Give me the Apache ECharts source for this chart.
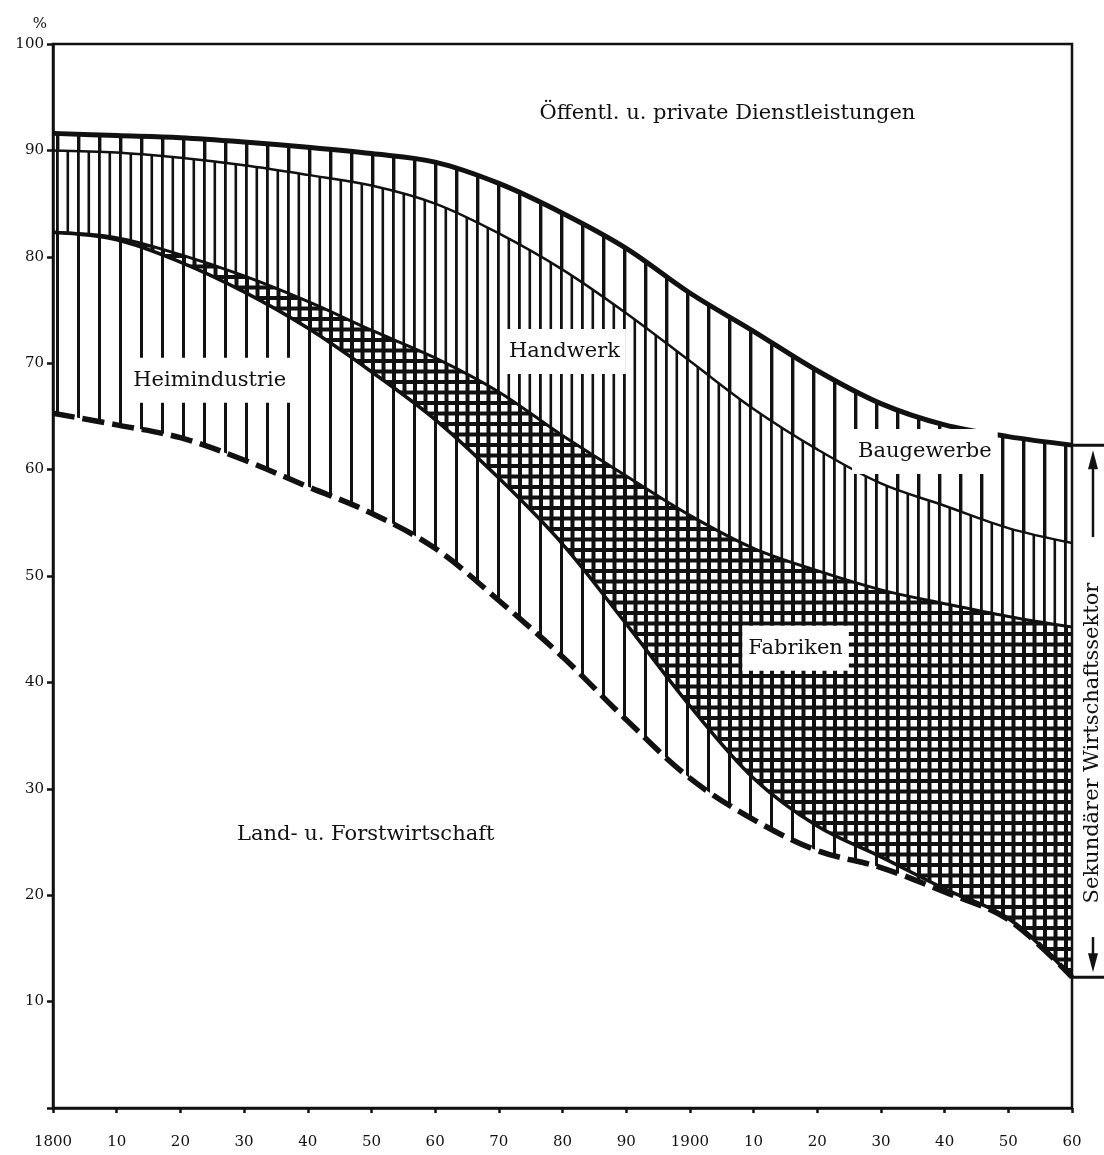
<!DOCTYPE html>
<html><head><meta charset="utf-8">
<script src="https://cdn.jsdelivr.net/npm/echarts@6/dist/echarts.min.js"></script>
<style>html,body{margin:0;padding:0;background:#fff}#c{width:1104px;height:1155px}</style>
</head><body><div id="c"></div>
<script>
// ---- data (percent of employed persons) ----
const years = [1800,1810,1820,1830,1840,1850,1860,1870,1880,1890,1900,1910,1920,1930,1940,1950,1960];
const xTickLabels = ['1800','10','20','30','40','50','60','70','80','90','1900','10','20','30','40','50','60'];
const yTickLabels = ['','10','20','30','40','50','60','70','80','90','100'];
const landForst      = [65.3,64.2,63.0,60.9,58.4,55.9,52.6,47.7,42.4,36.5,31.0,27.1,24.2,22.6,20.3,17.7,12.3];
const heimindustrie  = [17.0,17.4,16.5,15.8,14.9,13.3,12.1,11.5,10.6, 9.0, 6.8, 3.9, 2.3, 1.0, 0.3, 0.1, 0.0];
const fabriken       = [ 0.0, 0.2, 0.7, 1.5, 2.5, 3.9, 5.8, 8.1,10.2,13.9,17.9,21.6,24.0,25.1,26.8,28.4,32.9];
const handwerk       = [ 7.7, 8.0, 9.1,10.4,11.9,13.6,14.5,14.9,15.6,15.3,14.5,13.1,11.4,10.0, 9.2, 8.3, 7.9];
const baugewerbe     = [ 1.6, 1.6, 1.9, 2.2, 2.6, 3.0, 3.9, 4.7, 5.3, 6.1, 6.4, 7.3, 7.4, 7.5, 7.6, 8.6, 9.2];
const dienstleistung = [ 8.4, 8.6, 8.8, 9.2, 9.7,10.3,11.1,13.1,15.9,19.2,23.4,27.0,30.7,33.8,35.8,36.9,37.7];

const labelTexts  = ['Öffentl. u. private Dienstleistungen','Handwerk','Heimindustrie','Baugewerbe','Fabriken','Land- u. Forstwirtschaft'];
const labelYears  = [1905.9, 1880.3, 1824.6, 1936.9, 1916.6, 1849.1];
const labelValues = [93.5, 71.1, 68.4, 61.7, 43.2, 25.7];
const labelBoxed  = [false, true, true, true, true, false];
const sideLabel = 'Sekundärer Wirtschaftssektor';

// ---- hatch patterns ----
const INK = '#111';
function pat(w, h, draw){
  const c = document.createElement('canvas'); c.width = w; c.height = h;
  const g = c.getContext('2d'); g.fillStyle = INK; draw(g); return c;
}
const heimPat = pat(21, 21, g => { g.fillRect(14, 0, 3, 21); });
const handPat = pat(21, 21, g => { g.fillRect(14, 0, 2.8, 21); g.fillRect(3.5, 0, 2.6, 21); });
const bauPat  = pat(21, 21, g => { g.fillRect(14, 0, 3.4, 21); });
const fabPat  = pat(21, 21, g => {
  g.fillRect(14, 0, 4, 21); g.fillRect(3.5, 0, 4, 21);
  g.fillRect(0, 2, 21, 4); g.fillRect(0, 12.5, 21, 4);
});

function areaSeries(name, arr, patCanvas, line){
  return {
    name, type: 'line', stack: 'total', smooth: 0.35, showSymbol: false, symbol: 'none',
    xAxisIndex: 0, yAxisIndex: 0,
    data: arr,
    lineStyle: Object.assign({ color: INK, width: 3, cap: 'butt' }, line || {}),
    areaStyle: patCanvas ? { color: { image: patCanvas, repeat: 'repeat' }, opacity: 1 } : { opacity: 0 },
    silent: true, z: 2
  };
}

const last = years.length - 1;
const secTop = landForst[last] + heimindustrie[last] + fabriken[last] + handwerk[last] + baugewerbe[last];

const labelData = labelTexts.map((t, i) => ({
  value: [labelYears[i], labelValues[i]], name: t,
  label: labelBoxed[i] ? { backgroundColor: '#fff', padding: [12, 6] } : {}
}));

const tickFont = { color: '#111', fontFamily: 'DejaVu Serif', fontSize: 15 };
const labelFont = { color: '#111', fontFamily: 'DejaVu Serif', fontSize: 21 };
const chart = echarts.init(document.getElementById('c'), null, { renderer: 'canvas' });
chart.setOption({
  animation: false,
  backgroundColor: '#fff',
  grid: { left: 53, right: 32, top: 44, bottom: 47, show: true, borderColor: INK, borderWidth: 2.5, backgroundColor: 'transparent' },
  xAxis: [{
    type: 'category', data: xTickLabels, boundaryGap: false,
    axisLine: { show: true, lineStyle: { color: INK, width: 2.5 } },
    axisTick: { show: true, length: 5, lineStyle: { color: INK, width: 2.5 } },
    splitLine: { show: false },
    axisLabel: Object.assign({ margin: 27, interval: 0 }, tickFont)
  }, {
    type: 'value', min: years[0], max: years[last], show: false
  }],
  yAxis: {
    type: 'value', min: 0, max: 100, interval: 10,
    name: '%', nameLocation: 'end', nameGap: 12,
    nameTextStyle: Object.assign({ align: 'right', padding: [0, 6, 0, 0] }, tickFont),
    axisLine: { show: true, lineStyle: { color: INK, width: 2.5 } },
    axisTick: { show: true, length: 6, lineStyle: { color: INK, width: 2.5 } },
    splitLine: { show: false },
    axisLabel: Object.assign({ margin: 9, formatter: v => yTickLabels[Math.round(v / 10)] }, tickFont)
  },
  series: [
    areaSeries('Land- u. Forstwirtschaft', landForst, null, { width: 5.5, type: [22, 8] }),
    areaSeries('Heimindustrie', heimindustrie, heimPat, { width: 3.5 }),
    areaSeries('Fabriken', fabriken, fabPat, { width: 3 }),
    areaSeries('Handwerk', handwerk, handPat, { width: 2.5 }),
    areaSeries('Baugewerbe', baugewerbe, bauPat, { width: 5 }),
    areaSeries('Öffentl. u. private Dienstleistungen', dienstleistung, null, { width: 0, opacity: 0 }),
    {
      type: 'scatter', xAxisIndex: 1, symbolSize: 0, silent: true, z: 10, data: labelData,
      itemStyle: { opacity: 1 },
      emphasis: { disabled: true },
      label: Object.assign({ show: true, position: 'inside', opacity: 1, formatter: p => p.name }, labelFont)
    },
    {
      type: 'custom', xAxisIndex: 1, clip: false, silent: true, z: 10,
      data: [[years[last], landForst[last], secTop]],
      renderItem: (params, api) => {
        const top = api.coord([api.value(0), api.value(2)]);
        const bot = api.coord([api.value(0), api.value(1)]);
        const x0 = top[0], ax = x0 + 21;
        const cy = top[1] + (bot[1] - top[1]) * 0.56;
        const ln = (x1, y1, x2, y2, w) => ({ type: 'line', shape: { x1, y1, x2, y2 }, style: { stroke: INK, lineWidth: w } });
        return { type: 'group', children: [
          ln(x0, top[1], x0 + 40, top[1], 3),
          ln(x0, bot[1], x0 + 40, bot[1], 3),
          ln(ax, top[1] + 20, ax, cy - 206, 2.5),
          { type: 'polygon', shape: { points: [[ax, top[1] + 5], [ax - 5, top[1] + 24], [ax + 5, top[1] + 24]] }, style: { fill: INK } },
          ln(ax, cy + 194, ax, bot[1] - 20, 2.5),
          { type: 'polygon', shape: { points: [[ax, bot[1] - 5], [ax - 5, bot[1] - 24], [ax + 5, bot[1] - 24]] }, style: { fill: INK } },
          { type: 'text', x: ax, y: cy, rotation: Math.PI / 2,
            style: Object.assign({ text: sideLabel, fill: INK, align: 'center', verticalAlign: 'middle' },
              { fontFamily: labelFont.fontFamily, fontSize: labelFont.fontSize }) }
        ] };
      }
    }
  ]
});
</script></body></html>
